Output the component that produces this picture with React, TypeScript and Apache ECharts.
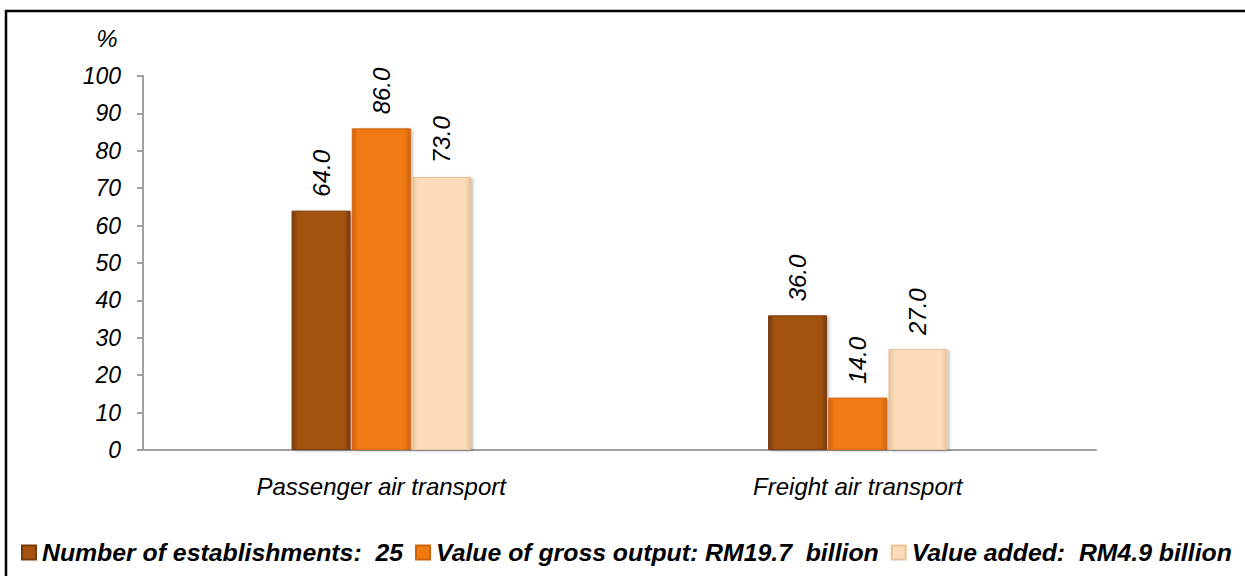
import React, { useEffect, useRef } from "react";
import * as echarts from "echarts";

const categories = ["Passenger air transport", "Freight air transport"];
const seriesNames = [
  "Number of establishments:  25",
  "Value of gross output: RM19.7  billion",
  "Value added:  RM4.9 billion",
];
const establishments = [64.0, 36.0];
const grossOutput = [86.0, 14.0];
const valueAdded = [73.0, 27.0];
const yTicks = [0, 10, 20, 30, 40, 50, 60, 70, 80, 90, 100];

const FONT = "'Liberation Sans', Arial, sans-serif";

const bevel = (edge: string, main: string) => ({
  type: "linear",
  x: 0,
  y: 0,
  x2: 1,
  y2: 0,
  colorStops: [
    { offset: 0, color: edge },
    { offset: 0.1, color: main },
    { offset: 0.9, color: main },
    { offset: 1, color: edge },
  ],
});

const palette = [
  { edge: "#7a3a08", main: "#a3530f" },
  { edge: "#d2620a", main: "#f07a12" },
  { edge: "#e8c49c", main: "#fcdcba" },
];

export default function App() {
  const ref = useRef<HTMLDivElement>(null);
  useEffect(() => {
    if (!ref.current) return;
    const chart = echarts.init(ref.current, null, { renderer: "svg" });
    const dataSets = [establishments, grossOutput, valueAdded];
    chart.setOption({
      animation: false,
      textStyle: { fontFamily: FONT },
      grid: { left: 143, right: 149, top: 76, bottom: 126, containLabel: false },
      legend: {
        data: seriesNames,
        left: 21,
        top: 540,
        padding: 0,
        itemWidth: 14,
        itemHeight: 14,
        itemGap: 12,
        icon: "rect",
        textStyle: {
          fontFamily: FONT,
          fontSize: 24.8,
          fontWeight: "bold",
          fontStyle: "italic",
          color: "#000",
          padding: [0, 0, 0, 1],
        },
      },
      xAxis: {
        type: "category",
        data: categories,
        axisLine: { lineStyle: { color: "#a0a0a0", width: 2 } },
        axisTick: { show: false },
        axisLabel: {
          margin: 24,
          fontSize: 24,
          fontStyle: "italic",
          color: "#000",
          fontFamily: FONT,
        },
      },
      yAxis: {
        type: "value",
        min: yTicks[0],
        max: yTicks[yTicks.length - 1],
        interval: 10,
        splitLine: { show: false },
        axisLine: { show: true, lineStyle: { color: "#a0a0a0", width: 2 } },
        axisTick: { show: true, length: 6, lineStyle: { color: "#a0a0a0", width: 2 } },
        axisLabel: {
          margin: 22,
          fontSize: 23,
          fontStyle: "italic",
          color: "#000",
          fontFamily: FONT,
        },
      },
      graphic: [
        {
          type: "rect",
          shape: { x: 6, y: 11, width: 1400, height: 800 },
          style: { fill: "none", stroke: "#000", lineWidth: 2.5 },
          silent: true,
        },
        {
          type: "text",
          x: 107,
          y: 38,
          style: {
            text: "%",
            fontSize: 24,
            fontStyle: "italic",
            fontFamily: FONT,
            fill: "#000",
            align: "center",
            verticalAlign: "middle",
          },
        },
      ],
      series: seriesNames.map((name, i) => ({
        name,
        type: "bar",
        data: dataSets[i],
        barWidth: 59,
        barGap: "2%",
        itemStyle: {
          color: bevel(palette[i].edge, palette[i].main),
          borderColor: palette[i].edge,
          borderWidth: 1,
          shadowColor: "rgba(0,0,0,0.25)",
          shadowBlur: 3,
          shadowOffsetX: 2,
          shadowOffsetY: 1,
        },
        label: {
          show: true,
          position: "top",
          distance: 14,
          rotate: 90,
          align: "left",
          verticalAlign: "middle",
          fontSize: 24,
          fontStyle: "italic",
          fontFamily: FONT,
          color: "#000",
          formatter: (p: any) => Number(p.value).toFixed(1),
        },
      })),
    });
    return () => chart.dispose();
  }, []);
  return (
    <div
      ref={ref}
      style={{ position: "fixed", left: 0, top: 0, width: 1245, height: 576, background: "#fff" }}
    />
  );
}
